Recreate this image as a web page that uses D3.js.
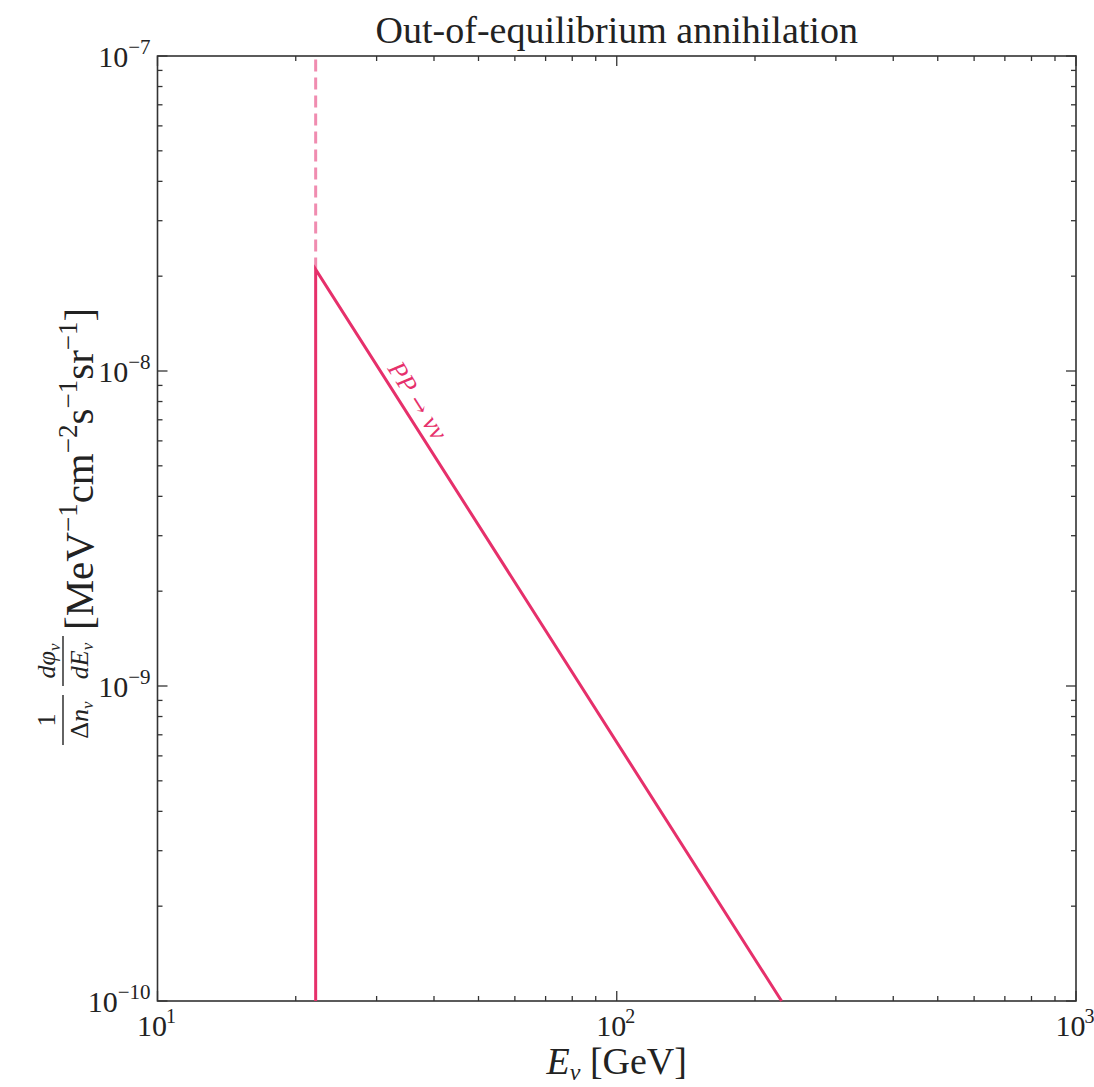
<!DOCTYPE html>
<html>
<head>
<meta charset="utf-8">
<script src="https://cdn.jsdelivr.net/npm/d3@7"></script>
<style>
  body { margin: 0; background: #fff; }
  text { font-family: "Liberation Serif", "DejaVu Serif", serif; fill: #222; }
</style>
</head>
<body>
<div id="chart"></div>
<script>
// spectrum (GeV, MeV^-1 cm^-2 s^-1 sr^-1)
var solidE = [22.1, 22.1, 228.5];
var solidFlux = [1e-10, 2.1e-8, 1e-10];
var dashE = [22.1, 22.1];
var dashFlux = [2.1e-8, 1e-7];

var xTickExp = [1, 2, 3];
var yTickExp = [-10, -9, -8, -7];
var titleText = "Out-of-equilibrium annihilation";
var labelParts = ["PP", " \u2192 ", "\u03bd\u03bd"];
var labelE = 34.5;

var svgWidth = 1094, svgHeight = 1087;
var margin = {top: 56, right: 18, bottom: 86, left: 157.5};
var chartWidth = svgWidth - margin.left - margin.right;
var chartHeight = svgHeight - margin.top - margin.bottom;

var svg = d3.select("#chart").append("svg")
    .attr("width", svgWidth)
    .attr("height", svgHeight);

var chartGroup = svg.append("g")
    .attr("transform", `translate(${margin.left}, ${margin.top})`);

var x = d3.scaleLog().domain([10, 1000]).range([0, chartWidth]);
var y = d3.scaleLog().domain([1e-10, 1e-7]).range([chartHeight, 0]);

// minor + major ticks, all pointing inward
function minors(scale) {
    var d = scale.domain(), out = [];
    var lo = Math.round(Math.log10(d[0])), hi = Math.round(Math.log10(d[1]));
    for (var e = lo; e < hi; e++) {
        for (var m = 2; m <= 9; m++) out.push(m * Math.pow(10, e));
    }
    return out;
}
var xMajor = xTickExp.map(e => Math.pow(10, e));
var yMajor = yTickExp.map(e => Math.pow(10, e));

var tickColor = "#333";
function drawTicks(vals, len, horiz) {
    vals.forEach(function(v) {
        if (horiz) {
            var px = x(v);
            chartGroup.append("line").attr("x1", px).attr("x2", px)
                .attr("y1", chartHeight).attr("y2", chartHeight - len)
                .attr("stroke", tickColor).attr("stroke-width", 1.3);
            chartGroup.append("line").attr("x1", px).attr("x2", px)
                .attr("y1", 0).attr("y2", len)
                .attr("stroke", tickColor).attr("stroke-width", 1.3);
        } else {
            var py = y(v);
            chartGroup.append("line").attr("x1", 0).attr("x2", len)
                .attr("y1", py).attr("y2", py)
                .attr("stroke", tickColor).attr("stroke-width", 1.3);
            chartGroup.append("line").attr("x1", chartWidth).attr("x2", chartWidth - len)
                .attr("y1", py).attr("y2", py)
                .attr("stroke", tickColor).attr("stroke-width", 1.3);
        }
    });
}
drawTicks(minors(x), 5, true);
drawTicks(xMajor, 10, true);
drawTicks(minors(y), 5, false);
drawTicks(yMajor, 10, false);

// frame
chartGroup.append("rect")
    .attr("width", chartWidth).attr("height", chartHeight)
    .attr("fill", "none").attr("stroke", "#333").attr("stroke-width", 1.6);

// tick labels as 10^n
xTickExp.forEach(function(e) {
    var t = chartGroup.append("text")
        .attr("x", x(Math.pow(10, e)) - 1)
        .attr("y", chartHeight + 35)
        .attr("text-anchor", "middle")
        .attr("font-size", "30px");
    t.append("tspan").text("10");
    t.append("tspan").attr("dy", -13).attr("dx", -1).attr("font-size", "20px").text(e);
});
yTickExp.forEach(function(e) {
    var t = chartGroup.append("text")
        .attr("x", -7)
        .attr("y", y(Math.pow(10, e)) + 11)
        .attr("text-anchor", "end")
        .attr("font-size", "30px");
    t.append("tspan").text("10");
    t.append("tspan").attr("dy", -13).attr("font-size", "21px").text("\u2212" + Math.abs(e));
});

// lines
var line = d3.line().x(d => x(d[0])).y(d => y(d[1]));
chartGroup.append("path")
    .datum(dashE.map((e, i) => [e, dashFlux[i]]))
    .attr("d", line)
    .attr("fill", "none")
    .attr("stroke", "#f08cb0")
    .attr("stroke-width", 3)
    .attr("stroke-dasharray", "12,6");
chartGroup.append("path")
    .datum(solidE.map((e, i) => [e, solidFlux[i]]))
    .attr("d", line)
    .attr("fill", "none")
    .attr("stroke", "#e6306b")
    .attr("stroke-width", 3);

// label along the falling branch
var p1 = [x(solidE[1]), y(solidFlux[1])], p2 = [x(solidE[2]), y(solidFlux[2])];
var ang = Math.atan2(p2[1] - p1[1], p2[0] - p1[0]) * 180 / Math.PI;
var t = (Math.log10(labelE) - Math.log10(solidE[1])) / (Math.log10(solidE[2]) - Math.log10(solidE[1]));
var lx = p1[0] + t * (p2[0] - p1[0]);
var ly = p1[1] + t * (p2[1] - p1[1]);
var lab = chartGroup.append("text")
    .attr("transform", `translate(${lx}, ${ly}) rotate(${ang}) translate(0, -7)`)
    .attr("text-anchor", "middle")
    .attr("font-size", "26px")
    .style("fill", "#e6306b");
lab.append("tspan").attr("font-style", "italic").text(labelParts[0]);
lab.append("tspan").style("font-family", "'DejaVu Serif', serif").attr("font-size", "22px").text(labelParts[1]);
lab.append("tspan").attr("font-style", "italic").text(labelParts[2]);

// title
svg.append("text")
    .attr("x", margin.left + chartWidth / 2)
    .attr("y", 43)
    .attr("text-anchor", "middle")
    .attr("font-size", "38px")
    .text(titleText);

// x axis label
var xl = svg.append("text")
    .attr("x", margin.left + chartWidth / 2)
    .attr("y", 1074)
    .attr("text-anchor", "middle")
    .attr("font-size", "38px");
xl.append("tspan").attr("font-style", "italic").text("E");
xl.append("tspan").attr("font-style", "italic").attr("font-size", "24px").attr("dy", 6).text("\u03bd");
xl.append("tspan").attr("dy", -6).text(" [GeV]");

// y axis label (rotated), fraction drawn by hand
var yl = svg.append("g")
    .attr("transform", `translate(96, 745) rotate(-90)`);
function frac(g, cx, num, den, w) {
    g.append("line").attr("x1", cx - w / 2).attr("x2", cx + w / 2)
        .attr("y1", -33).attr("y2", -33).attr("stroke", "#222").attr("stroke-width", 1.4);
    var n = g.append("text").attr("x", cx).attr("y", -41).attr("text-anchor", "middle").attr("font-size", "26px");
    num(n);
    var d = g.append("text").attr("x", cx).attr("y", -8).attr("text-anchor", "middle").attr("font-size", "26px");
    den(d);
}
frac(yl, 25, function(n) { n.text("1"); }, function(d) {
    d.append("tspan").text("\u0394");
    d.append("tspan").attr("font-style", "italic").text("n");
    d.append("tspan").attr("font-style", "italic").attr("font-size", "17px").attr("dy", 5).text("\u03bd");
}, 50);
frac(yl, 84, function(n) {
    n.append("tspan").attr("font-style", "italic").text("d\u03c6");
    n.append("tspan").attr("font-style", "italic").attr("font-size", "17px").attr("dy", 5).text("\u03bd");
}, function(d) {
    d.append("tspan").attr("font-style", "italic").text("dE");
    d.append("tspan").attr("font-style", "italic").attr("font-size", "17px").attr("dy", 5).text("\u03bd");
}, 50);
var unit = yl.append("text").attr("x", 115).attr("y", -3).attr("font-size", "41px");
var unitParts = [["[MeV", "\u22121"], ["cm", "\u22122"], ["s", "\u22121"], ["sr", "\u22121"]];
unitParts.forEach(function(p, i) {
    unit.append("tspan").attr("dy", i === 0 ? 0 : 16).text(p[0]);
    unit.append("tspan").attr("dy", -16).attr("font-size", "27px").text(p[1]);
});
unit.append("tspan").attr("dy", 16).text("]");
</script>
</body>
</html>
